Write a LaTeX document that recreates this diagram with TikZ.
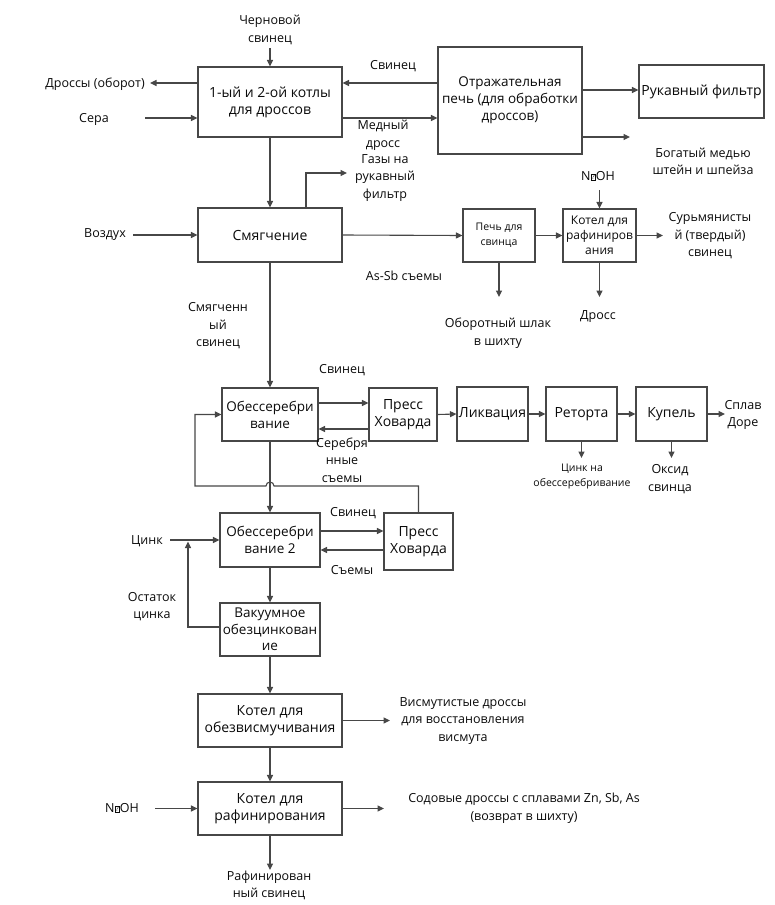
\documentclass[tikz,border=0pt]{standalone}
\usepackage{fontspec}
\setmainfont{Open Sans}
\usetikzlibrary{arrows.meta}
\definecolor{lineclr}{HTML}{474747}
\definecolor{txtclr}{HTML}{0A0A0A}
\newcommand{\naoh}{N\kern0.2pt{\setlength{\fboxsep}{0.4pt}\setlength{\fboxrule}{0.6pt}\raisebox{0.3pt}{\fbox{\fontsize{6.5}{6.5}\selectfont ?}}}\kern0.2pt OH}
\tikzset{
  blk/.style={draw=lineclr, line width=1.1pt, rectangle, inner sep=0pt, align=center,
    text=txtclr, font=\fontsize{14}{17}\selectfont},
  lbl/.style={align=center, inner sep=0pt, text=txtclr, font=\fontsize{12.5}{17.5}\selectfont},
  small/.style={font=\fontsize{10.5}{15}\selectfont},
  flow/.style={draw=lineclr, line width=1.1pt, -{Triangle[length=6.5pt,width=6pt]}},
}
\begin{document}
\begin{tikzpicture}[x=1pt,y=-1pt]
                \useasboundingbox (0,0) rectangle (774,905);
                % boxes
                \node[blk, minimum width=144pt, minimum height=70pt] (kotly) at (270,102) {1-ый и 2-ой котлы\\для дроссов};
                \node[blk, minimum width=144pt, minimum height=107pt, font=\fontsize{13.5}{17}\selectfont] (otrazh) at (510,100.5) {Отражательная\\печь (для обработки\\дроссов)};
                \node[blk, minimum width=125pt, minimum height=53pt] (filtr) at (701.5,91.5) {Рукавный фильтр};
                \node[blk, minimum width=144pt, minimum height=54pt] (smyag) at (270,235) {Смягчение};
                \node[blk, small, minimum width=72pt, minimum height=53pt] (pech) at (499,235.5) {Печь для\\свинца};
                \node[blk, minimum width=73pt, minimum height=53pt, font=\fontsize{12}{15}\selectfont] (kotelA) at (599.5,235.5) {Котел для\\рафиниров\\ания};
                \node[blk, minimum width=96pt, minimum height=53pt, font=\fontsize{13.5}{17}\selectfont] (obes) at (270,414.5) {Обессеребри\\вание};
                \node[blk, minimum width=68pt, minimum height=53pt] (pressA) at (403,414.5) {Пресс\\Ховарда};
                \node[blk, minimum width=71pt, minimum height=54pt] (likv) at (492.5,414) {Ликвация};
                \node[blk, minimum width=71pt, minimum height=54pt] (retorta) at (581.5,414) {Реторта};
                \node[blk, minimum width=71pt, minimum height=54pt] (kupel) at (671.5,414) {Купель};
                \node[blk, minimum width=100pt, minimum height=54pt, font=\fontsize{13.5}{17}\selectfont] (obesB) at (270,540) {Обессеребри\\вание 2};
                \node[blk, minimum width=69pt, minimum height=57pt] (pressB) at (418.5,541.5) {Пресс\\Ховарда};
                \node[blk, minimum width=100pt, minimum height=53pt, font=\fontsize{13.5}{16.5}\selectfont] (vakuum) at (270,629.5) {Вакуумное\\обезцинкован\\ие};
                \node[blk, minimum width=144pt, minimum height=53pt] (obezv) at (270,720.5) {Котел для\\обезвисмучивания};
                \node[blk, minimum width=144pt, minimum height=53pt] (rafin) at (270,808.5) {Котел для\\рафинирования};
                % labels
                \node[lbl] (chern) at (270,30) {Черновой\\свинец};
                \node[lbl] (drossy) at (95,84) {Дроссы (оборот)};
                \node[lbl] (sera) at (94,119) {Сера};
                \node[lbl] (svinA) at (393,66) {Свинец};
                \node[lbl] (medn) at (383,135.5) {Медный\\дросс};
                \node[lbl] (gazy) at (385,178) {Газы на\\рукавный\\фильтр};
                \node[lbl] (bogat) at (703,161.5) {Богатый медью\\штейн и шпейза};
                \node[lbl] (vozd) at (105,235) {Воздух};
                \node[lbl] (assb) at (404,276) {As-Sb съемы};
                \node[lbl] (naohA) at (598,176) {\naoh};
                \node[lbl] (surm) at (710,236) {Сурьмянисты\\й (твердый)\\свинец};
                \node[lbl] (shlak) at (498,333) {Оборотный шлак\\в шихту};
                \node[lbl] (drossA) at (598,317) {Дросс};
                \node[lbl] (smsv) at (218,326) {Смягченн\\ый\\свинец};
                \node[lbl] (svinB) at (342,370) {Свинец};
                \node[lbl] (serebr) at (342,460) {Серебря\\нные\\съемы};
                \node[lbl] (dore) at (743,415) {Сплав\\Доре};
                \node[lbl, small] (cinkna) at (582,477) {Цинк на\\обессеребривание};
                \node[lbl] (oksid) at (670,479) {Оксид\\свинца};
                \node[lbl] (svinC) at (353,513) {Свинец};
                \node[lbl] (semy) at (352,570) {Съемы};
                \node[lbl] (cink) at (147,541) {Цинк};
                \node[lbl] (ostat) at (152,606.5) {Остаток\\цинка};
                \node[lbl] (vism) at (463,721) {Висмутистые дроссы\\для восстановления\\висмута};
                \node[lbl] (naohB) at (122,808) {\naoh};
                \node[lbl] (sodov) at (524,808) {Содовые дроссы с сплавами Zn, Sb, As\\(возврат в шихту)};
                \node[lbl] (rafsv) at (269,885.5) {Рафинирован\\ный свинец};
                % free ends
                \coordinate (chernE) at (270,48);
                \coordinate (drossE) at (150,83);
                \coordinate (seraE) at (145,118);
                \coordinate (bogatE) at (630,137);
                \coordinate (gazyE) at (347,173);
                \coordinate (vozdE) at (133,235);
                \coordinate (naohAE) at (599.5,190);
                \coordinate (surmE) at (663,235.5);
                \coordinate (shlakE) at (499,297);
                \coordinate (drossAE) at (599.5,297);
                \coordinate (doreE) at (725,414);
                \coordinate (cinknaE) at (581.5,458);
                \coordinate (oksidE) at (671.5,458);
                \coordinate (hopR) at (274,486);
                \coordinate (loopL) at (195,486);
                \coordinate (cinkE) at (170,540);
                \coordinate (zjoin) at (188,541.5);
                \coordinate (vismE) at (390,720.5);
                \coordinate (naohBE) at (155,808.5);
                \coordinate (sodovE) at (384,808.5);
                \coordinate (rafsvE) at (270,870);
                % connectors
                \draw[flow] (chernE) -- (kotly.north);
                \draw[flow] ([yshift=19pt]kotly.west) -- (drossE);
                \draw[flow] (seraE) -- ([yshift=-16pt]kotly.west);
                \draw[flow] ([yshift=17.5pt]otrazh.west) -- ([yshift=19pt]kotly.east);
                \draw[flow] ([yshift=-16pt]kotly.east) -- ([yshift=-17.5pt]otrazh.west);
                \draw[flow] ([yshift=10.5pt]otrazh.east) -- ([yshift=1.5pt]filtr.west);
                \draw[flow] ([yshift=-36.5pt]otrazh.east) -- (bogatE);
                \draw[flow] (kotly.south) -- (smyag.north);
                \draw[flow] ([xshift=36pt]smyag.north) |- (gazyE);
                \draw[flow] (vozdE) -- (smyag.west);
                \draw[flow] (smyag.east) -- (pech.west);
                \draw[flow] (pech.east) -- (kotelA.west);
                \draw[flow] (naohAE) -- (kotelA.north);
                \draw[flow] (kotelA.east) -- (surmE);
                \draw[flow] (pech.south) -- (shlakE);
                \draw[flow] (kotelA.south) -- (drossAE);
                \draw[flow] (smyag.south) -- (obes.north);
                \draw[flow] ([yshift=11.5pt]obes.east) -- ([yshift=11.5pt]pressA.west);
                \draw[flow] ([yshift=-14.5pt]pressA.west) -- ([yshift=-14.5pt]obes.east);
                \draw[flow] (pressA.east) -- (likv.west);
                \draw[flow] (likv.east) -- (retorta.west);
                \draw[flow] (retorta.east) -- (kupel.west);
                \draw[flow] (kupel.east) -- (doreE);
                \draw[flow] (retorta.south) -- (cinknaE);
                \draw[flow] (kupel.south) -- (oksidE);
                \draw[flow] (obes.south) -- (obesB.north);
                \draw[flow] (pressB.north) |- (hopR) arc[start angle=0, end angle=180, radius=4pt] -- (loopL) |- (obes.west);
                \draw[flow] ([yshift=9pt]obesB.east) -- ([yshift=10.5pt]pressB.west);
                \draw[flow] ([yshift=-8.5pt]pressB.west) -- ([yshift=-10pt]obesB.east);
                \draw[flow] (cinkE) -- (obesB.west);
                \draw[flow] (obesB.south) -- (vakuum.north);
                \draw[flow] ([yshift=2.5pt]vakuum.west) -| (zjoin);
                \draw[flow] (vakuum.south) -- (obezv.north);
                \draw[flow] (obezv.east) -- (vismE);
                \draw[flow] (obezv.south) -- (rafin.north);
                \draw[flow] (naohBE) -- (rafin.west);
                \draw[flow] (rafin.east) -- (sodovE);
                \draw[flow] (rafin.south) -- (rafsvE);
            \end{tikzpicture}
\end{document}
